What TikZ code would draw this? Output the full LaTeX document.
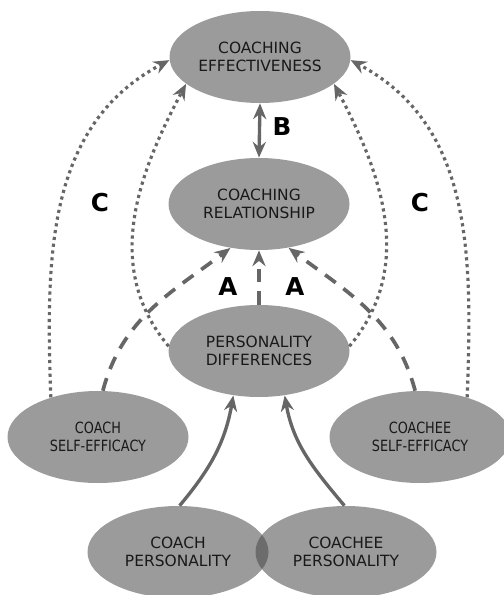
\documentclass[tikz,border=0pt]{standalone}
\usepackage{fontspec}
\setmainfont{DejaVu Sans}
\newfontfamily\condfont[FakeStretch=0.83]{DejaVu Sans}
\usepackage{tikz}
\usetikzlibrary{arrows.meta,shapes.geometric}
\definecolor{ellfill}{RGB}{155,155,155}
\definecolor{ovfill}{RGB}{108,108,108}
\definecolor{linegray}{RGB}{102,102,102}
\definecolor{txtgray}{RGB}{25,25,25}

\begin{document}
\begin{tikzpicture}[
    factor/.style={ellipse,fill=ellfill,minimum width=3.62cm,minimum height=1.84cm,
      inner sep=0pt,align=center,text=txtgray,font=\fontsize{8.8}{10.2}\selectfont},
    link/.style={line width=1.9pt,color=linegray,-{Stealth[length=9pt,width=7.5pt,inset=3pt]}},
    dotlink/.style={link,line width=1.8pt,dash pattern=on 1.8pt off 2.1pt},
    dashlink/.style={link,line width=2.1pt,dash pattern=on 7.5pt off 5.5pt},
    pathlabel/.style={font=\fontsize{14}{14}\bfseries\selectfont,text=black}
  ]
  \useasboundingbox (0,0) rectangle (10.06,-11.9);

  \node[factor] (eff) at (5.20,-1.14) {COACHING\\EFFECTIVENESS};
  \node[factor] (rel) at (5.18,-4.08) {COACHING\\RELATIONSHIP};
  \node[factor] (diff) at (5.18,-7.02) {PERSONALITY\\DIFFERENCES};
  \node[factor,font=\condfont\fontsize{8.8}{10.2}\selectfont] (cse) at (1.96,-8.74) {COACH\\SELF-EFFICACY};
  \node[factor,font=\condfont\fontsize{8.8}{10.2}\selectfont] (ese) at (8.40,-8.74) {COACHEE\\SELF-EFFICACY};
  \node[factor] (cp) at (3.56,-11.04) {COACH\\PERSONALITY};
  \node[factor] (ep) at (6.92,-11.04) {COACHEE\\PERSONALITY};
  % overlap of the two personalities
  \begin{scope}
    \clip (cp.center) ellipse [x radius=1.81cm,y radius=0.92cm];
    \fill[ovfill] (ep.center) ellipse [x radius=1.81cm,y radius=0.92cm];
  \end{scope}

  \node[pathlabel] (lb) at (5.64,-2.54) {B};
  \node[pathlabel] (lcl) at (2.00,-4.06) {C};
  \node[pathlabel] (lcr) at (8.40,-4.06) {C};
  \node[pathlabel] (lal) at (4.56,-5.74) {A};
  \node[pathlabel] (lar) at (5.90,-5.74) {A};

  \draw[link,{Stealth[length=9pt,width=7.5pt,inset=3pt]}-{Stealth[length=9pt,width=7.5pt,inset=3pt]}] (eff.south) -- (rel.north);

  \draw[dashlink] (diff.north) -- (rel.south);
  \draw[dashlink] (cse.84) to[out=75,in=217] (rel.237);
  \draw[dashlink] (ese.96) to[out=105,in=-37] (rel.304);

  \draw[dotlink] (cse.140) to[out=92,in=208] (eff.182);
  \draw[dotlink] (diff.177) to[out=130,in=242] (eff.200);
  \draw[dotlink] (diff.3) to[out=50,in=298] (eff.340);
  \draw[dotlink] (ese.40) to[out=88,in=-28] (eff.358);

  \draw[link] (cp.88) to[out=50,in=-100] (diff.240);
  \draw[link] (ep.92) to[out=130,in=-80] (diff.300);
%  \draw[link] (cse.east) -- (cp.north);
\end{tikzpicture}
\end{document}
